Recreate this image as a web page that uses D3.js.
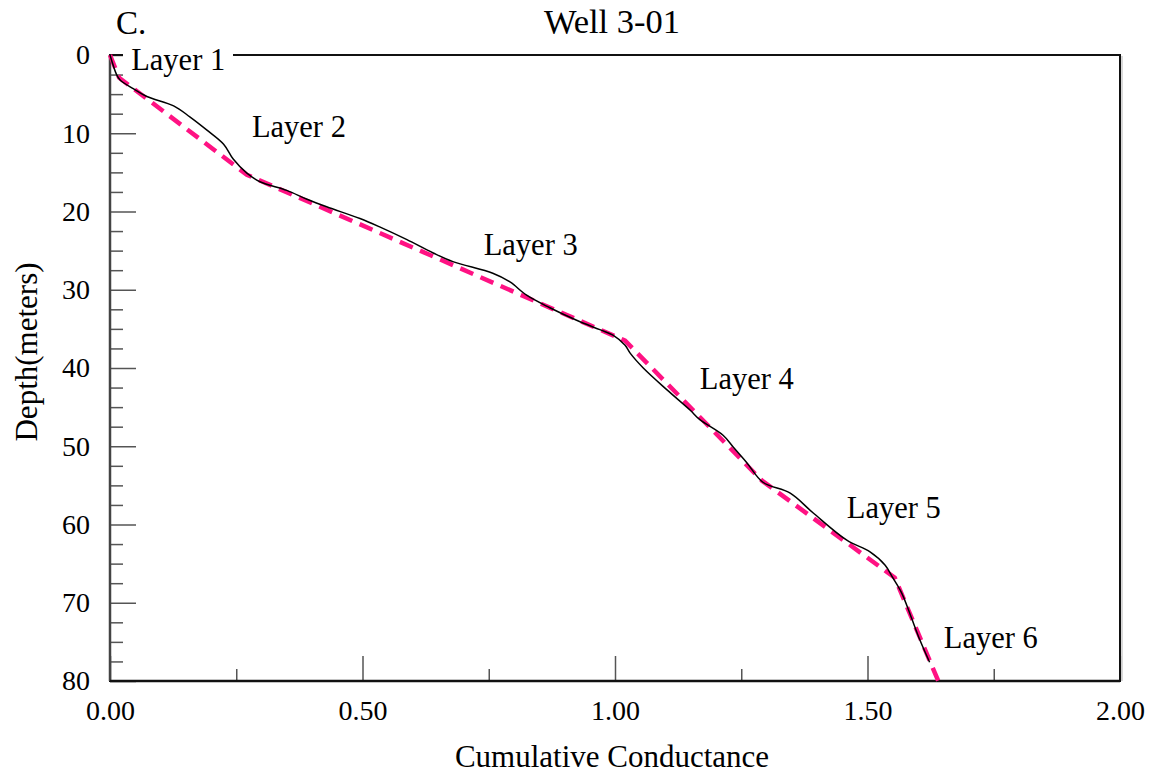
<!DOCTYPE html>
<html>
<head>
<meta charset="utf-8">
<script src="https://cdn.jsdelivr.net/npm/d3@7"></script>
<style>
  body { margin: 0; background: #fff; }
  svg text { font-family: 'Liberation Serif', 'DejaVu Serif', serif; fill: #000; }
</style>
</head>
<body>
<div id="chart"></div>
<script>
var serif = "'Liberation Serif', 'DejaVu Serif', serif";

// measured curve (depth in m, cumulative conductance)
var depthMeasured = [0, 2.5, 3.2, 4.3, 5.3, 6.5, 7.9, 9.6, 11.4, 13.3, 15.1, 16.2, 17.3, 18.4, 19.4, 20.9, 22.0, 23.6, 25.3, 26.4, 27.9, 29.0, 30.7, 32.3, 33.9, 35.1, 35.8, 37.1, 38.1, 40.0, 42.8, 45.4, 46.6, 48.6, 50.1, 52.1, 54.6, 56.0, 58.5, 62.0, 63.5, 65.2, 66.8, 68.8, 71.4, 74.8, 77.6];
var condMeasured = [0, 0.013, 0.020, 0.046, 0.073, 0.126, 0.158, 0.192, 0.225, 0.244, 0.271, 0.297, 0.350, 0.389, 0.429, 0.495, 0.535, 0.588, 0.640, 0.679, 0.758, 0.792, 0.825, 0.871, 0.924, 0.970, 0.996, 1.020, 1.030, 1.056, 1.103, 1.149, 1.168, 1.214, 1.234, 1.261, 1.293, 1.347, 1.392, 1.459, 1.505, 1.535, 1.550, 1.568, 1.584, 1.604, 1.623];

// layered model (dashed)
var depthFit = [0, 2.9, 15.3, 36.5, 54.4, 66.8, 80.9];
var condFit = [0, 0.018, 0.271, 1.02, 1.291, 1.554, 1.646];

var layerNames = ["Layer 1", "Layer 2", "Layer 3", "Layer 4", "Layer 5", "Layer 6"];
// label anchor in data units (conductance, depth)
var layerCond = [0.042, 0.281, 0.740, 1.168, 1.459, 1.651];
var layerDepth = [1.9, 10.5, 25.6, 42.7, 59.2, 75.8];

var xMajor = [0, 0.5, 1.0, 1.5, 2.0];
var xMinor = [0.25, 0.75, 1.25, 1.75];
var yMajor = [0, 10, 20, 30, 40, 50, 60, 70, 80];
var yMinor = [2.5, 5, 7.5, 12.5, 15, 17.5, 22.5, 25, 27.5, 32.5, 35, 37.5, 42.5, 45, 47.5, 52.5, 55, 57.5, 62.5, 65, 67.5, 72.5, 75, 77.5];

var width = 1153, height = 773;
var margin = {top: 55, right: 33, bottom: 92, left: 110};
var w = width - margin.left - margin.right;
var h = height - margin.top - margin.bottom;

var svg = d3.select('#chart').append('svg')
    .attr('width', width)
    .attr('height', height);

var g = svg.append('g')
    .attr('transform', 'translate(' + margin.left + ',' + margin.top + ')');

var xScale = d3.scaleLinear().domain([0, 2]).range([0, w]);
var yScale = d3.scaleLinear().domain([0, 80]).range([0, h]);

// ticks (inside)
var tickCol = '#555';
g.append('g')
    .attr('class', 'x axis')
    .attr('transform', 'translate(0,' + h + ')')
    .call(d3.axisBottom(xScale).tickValues(xMajor).tickSizeInner(-25).tickSizeOuter(0)
        .tickPadding(19).tickFormat(d3.format('.2f')))
    .call(function (a) {
        a.attr('font-family', serif).attr('font-size', 28);
        a.select('.domain').remove();
        a.selectAll('line').attr('stroke', tickCol).attr('stroke-width', 1.5);
        a.selectAll('text').attr('fill', '#000');
    });

g.append('g')
    .attr('transform', 'translate(0,' + h + ')')
    .call(d3.axisBottom(xScale).tickValues(xMinor).tickSizeInner(-12).tickSizeOuter(0).tickFormat(''))
    .call(function (a) {
        a.select('.domain').remove();
        a.selectAll('line').attr('stroke', tickCol).attr('stroke-width', 1.5);
    });

g.append('g')
    .attr('class', 'y axis')
    .call(d3.axisLeft(yScale).tickValues(yMajor).tickSizeInner(-26).tickSizeOuter(0).tickPadding(20))
    .call(function (a) {
        a.attr('font-family', serif).attr('font-size', 28);
        a.select('.domain').remove();
        a.selectAll('line').attr('stroke', tickCol).attr('stroke-width', 1.5);
        a.selectAll('text').attr('fill', '#000');
    });

g.append('g')
    .call(d3.axisLeft(yScale).tickValues(yMinor).tickSizeInner(-13).tickSizeOuter(0).tickFormat(''))
    .call(function (a) {
        a.select('.domain').remove();
        a.selectAll('line').attr('stroke', tickCol).attr('stroke-width', 1.5);
    });

// frame
g.append('line').attr('x1', w + 2).attr('x2', w + 2).attr('y1', 1).attr('y2', h)
    .attr('stroke', '#ccc').attr('stroke-width', 1.5);
g.append('rect')
    .attr('x', 0).attr('y', 0).attr('width', w).attr('height', h)
    .attr('fill', 'none').attr('stroke', '#111').attr('stroke-width', 2);
g.append('line').attr('x1', 0).attr('x2', 0).attr('y1', 0).attr('y2', h)
    .attr('stroke', '#444').attr('stroke-width', 2.5);
g.append('line').attr('x1', 0).attr('x2', w).attr('y1', h).attr('y2', h)
    .attr('stroke', '#111').attr('stroke-width', 2.5);

// white box behind "Layer 1" breaks the top frame
g.append('rect')
    .attr('x', 13).attr('y', -12).attr('width', 110).attr('height', 28)
    .attr('fill', '#fff');

var measured = depthMeasured.map(function (d, i) { return {depth: d, cond: condMeasured[i]}; });
var fitted = depthFit.map(function (d, i) { return {depth: d, cond: condFit[i]}; });

var lineGen = d3.line()
    .x(function (d) { return xScale(d.cond); })
    .y(function (d) { return yScale(d.depth); })
    .curve(d3.curveCatmullRom);

var fitGen = d3.line()
    .x(function (d) { return xScale(d.cond); })
    .y(function (d) { return yScale(d.depth); });

g.append('path')
    .datum(fitted)
    .attr('d', fitGen)
    .attr('fill', 'none')
    .attr('stroke', '#ff1283')
    .attr('stroke-width', 4.5)
    .attr('stroke-dasharray', '14,8');

g.append('path')
    .datum(measured)
    .attr('d', lineGen)
    .attr('fill', 'none')
    .attr('stroke', '#000')
    .attr('stroke-width', 1.5);

// layer labels
g.selectAll('.layer')
    .data(layerNames)
    .enter().append('text')
    .attr('class', 'layer')
    .attr('x', function (d, i) { return xScale(layerCond[i]); })
    .attr('y', function (d, i) { return yScale(layerDepth[i]); })
    .attr('font-family', serif)
    .attr('font-size', 30.5)
    .text(function (d) { return d; });

// titles
svg.append('text')
    .attr('x', 116).attr('y', 34)
    .attr('font-family', serif)
    .attr('font-size', 33)
    .text('C.');

svg.append('text')
    .attr('x', 612).attr('y', 33)
    .attr('text-anchor', 'middle')
    .attr('font-family', serif)
    .attr('font-size', 34.5)
    .text('Well 3-01');

svg.append('text')
    .attr('x', 612).attr('y', 767)
    .attr('text-anchor', 'middle')
    .attr('font-family', serif)
    .attr('font-size', 31)
    .text('Cumulative Conductance');

svg.append('text')
    .attr('transform', 'translate(37,352) rotate(-90)')
    .attr('text-anchor', 'middle')
    .attr('font-family', serif)
    .attr('font-size', 31)
    .text('Depth(meters)');
</script>
</body>
</html>
